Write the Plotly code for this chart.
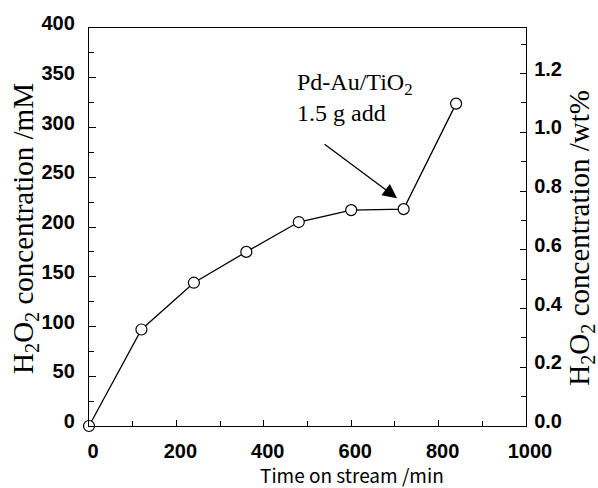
import plotly.graph_objects as go

time_min = [0, 120, 240, 360, 480, 600, 720, 840]
conc_mM = [0, 97, 144, 175, 205, 217, 218, 324]

x_ticks = [0, 200, 400, 600, 800, 1000]
y_ticks = [0, 50, 100, 150, 200, 250, 300, 350, 400]
y2_ticks = [0.0, 0.2, 0.4, 0.6, 0.8, 1.0, 1.2]
MM_TO_WT = 1.355 / 400  # right axis scale: 400 mM <-> 1.355 wt%

serif = "Liberation Serif, Times New Roman, serif"
sans = "Liberation Sans, Arial, sans-serif"
tickfont = dict(family=sans, size=20, color="black", weight="bold")

fig = go.Figure()
fig.add_trace(go.Scatter(
    x=time_min, y=conc_mM, mode="lines+markers",
    line=dict(color="black", width=1.3),
    marker=dict(symbol="circle", size=11, color="white",
                line=dict(color="black", width=1.2)),
    cliponaxis=False, showlegend=False,
))
# same series on the wt% axis (invisible, only to carry the right axis)
fig.add_trace(go.Scatter(
    x=time_min, y=[c * MM_TO_WT for c in conc_mM], yaxis="y2",
    mode="markers", marker=dict(opacity=0), hoverinfo="skip", showlegend=False,
))

fig.update_layout(
    width=598, height=488,
    margin=dict(l=89, r=72, t=18, b=62),
    paper_bgcolor="white", plot_bgcolor="white",
    xaxis=dict(range=[0, 1000], tickvals=x_ticks, ticks="inside", ticklen=6,
               tickwidth=1.2, tickcolor="black",
               minor=dict(dtick=100, ticks="inside", ticklen=5, tickcolor="black", tickwidth=1.2),
               showline=True, linecolor="black", linewidth=1.3, mirror=True,
               showgrid=False, zeroline=False, tickfont=tickfont,
               ticklabelshift=4, ticklabelstandoff=7),
    yaxis=dict(range=[0, 400], tickvals=y_ticks, ticks="inside", ticklen=7,
               tickwidth=1.2, tickcolor="black",
               minor=dict(dtick=25, ticks="inside", ticklen=5, tickcolor="black", tickwidth=1.2),
               showline=True, linecolor="black", linewidth=1.3,
               showgrid=False, zeroline=False, tickfont=tickfont,
               ticklabelshift=-5, ticklabelstandoff=9),
    yaxis2=dict(range=[0, 1.355], tickvals=y2_ticks, tickformat=".1f",
                overlaying="y", side="right", anchor="x",
                ticks="inside", ticklen=6, tickwidth=1.2, tickcolor="black",
                minor=dict(dtick=0.1, ticks="inside", ticklen=5, tickcolor="black", tickwidth=1.2),
                showline=True, linecolor="black", linewidth=1.3,
                showgrid=False, zeroline=False, tickfont=tickfont,
                ticklabelshift=-5, ticklabelstandoff=3),
)

# axis titles as annotations for exact placement
fig.add_annotation(text="H<sub>2</sub>O<sub>2</sub> concentration /mM",
                   xref="paper", yref="paper", x=(25 - 89) / 437, y=(426 - 224) / 408,
                   xanchor="center", yanchor="middle",
                   textangle=-90, showarrow=False,
                   font=dict(family=serif, size=29, color="black"))
fig.add_annotation(text="H<sub>2</sub>O<sub>2</sub> concentration /wt%",
                   xref="paper", yref="paper", x=(581 - 89) / 437, y=(426 - 233) / 408,
                   xanchor="center", yanchor="middle",
                   textangle=-90, showarrow=False,
                   font=dict(family=serif, size=29, color="black"))
fig.add_annotation(text="Time on stream /min",
                   xref="paper", yref="paper", x=(352 - 89) / 437, y=(426 - 476) / 408,
                   xanchor="center", yanchor="middle", showarrow=False,
                   font=dict(family="Noto Sans CJK JP, sans-serif", size=19, color="black"))

# callout
fig.add_annotation(text="Pd-Au/TiO<sub>2</sub><br>1.5 g add",
                   xref="x", yref="y", x=472, y=361, xanchor="left", yanchor="top",
                   align="left", showarrow=False,
                   font=dict(family=serif, size=24, color="black"))
fig.add_annotation(x=705, y=229, xref="x", yref="y", ax=-74, ay=-55,
                   text="", showarrow=True, arrowhead=2, arrowsize=2.2,
                   arrowwidth=1.3, arrowcolor="black")

fig.write_html("out.html")
